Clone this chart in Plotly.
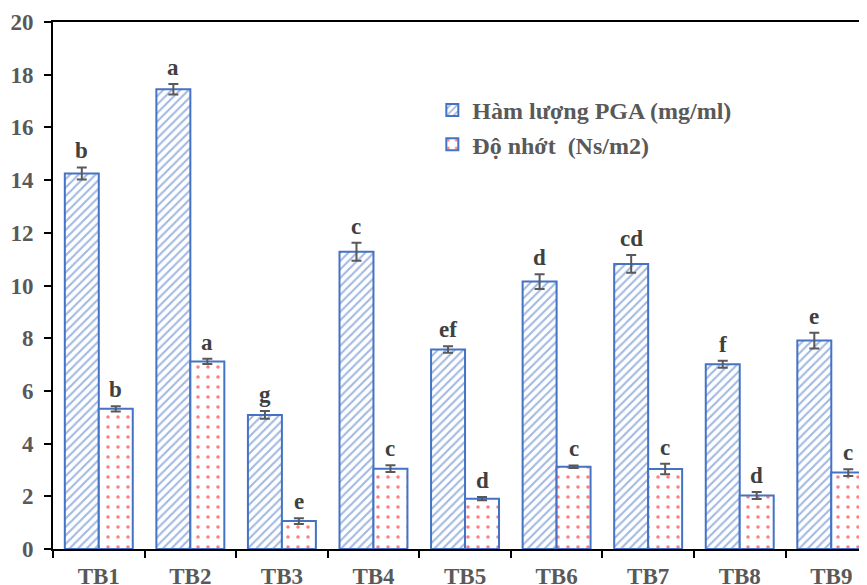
import plotly.graph_objects as go

categories = ["TB1", "TB2", "TB3", "TB4", "TB5", "TB6", "TB7", "TB8", "TB9"]
pga = [14.25, 17.45, 5.09, 11.28, 7.57, 10.15, 10.82, 7.01, 7.91]
pga_err = [0.23, 0.20, 0.15, 0.34, 0.12, 0.28, 0.34, 0.13, 0.30]
pga_letters = ["b", "a", "g", "c", "ef", "d", "cd", "f", "e"]
visc = [5.32, 7.12, 1.06, 3.05, 1.91, 3.12, 3.04, 2.03, 2.90]
visc_err = [0.10, 0.10, 0.11, 0.13, 0.06, 0.05, 0.20, 0.13, 0.13]
visc_letters = ["b", "a", "e", "c", "d", "c", "c", "d", "c"]
y_ticks = [0, 2, 4, 6, 8, 10, 12, 14, 16, 18, 20]

FONT = "Liberation Serif"
BLUE = "#4472C4"
GRAY = "#595959"

fig = go.Figure()
fig.add_trace(go.Bar(
    x=categories, y=pga, name="Hàm lượng PGA (mg/ml)",
    marker=dict(color="white", line=dict(color=BLUE, width=2),
                pattern=dict(shape="/", fgcolor=BLUE, bgcolor="white", size=6, solidity=0.35)),
    error_y=dict(type="data", array=pga_err, color=GRAY, thickness=2, width=5),
))
fig.add_trace(go.Bar(
    x=categories, y=visc, name="Độ nhớt  (Ns/m2)",
    marker=dict(color="white", line=dict(color=BLUE, width=2),
                pattern=dict(shape=".", fgcolor="#FF0000", bgcolor="white", size=10, solidity=0.1)),
    error_y=dict(type="data", array=visc_err, color=GRAY, thickness=2, width=5),
))

for c, v, e, t in zip(categories, pga, pga_err, pga_letters):
    fig.add_annotation(x=c, y=v + e, text=t, showarrow=False, xshift=-17, yshift=2,
                       yanchor="bottom", font=dict(family=FONT, size=23, color="#404040", weight="bold"))
for c, v, e, t in zip(categories, visc, visc_err, visc_letters):
    fig.add_annotation(x=c, y=v + e, text=t, showarrow=False, xshift=17, yshift=2,
                       yanchor="bottom", font=dict(family=FONT, size=23, color="#404040", weight="bold"))

fig.update_layout(
    width=867, height=585,
    margin=dict(l=45, r=8, t=14, b=44),
    paper_bgcolor="white", plot_bgcolor="white",
    barmode="group", bargap=0.258, bargroupgap=0,
    font=dict(family=FONT, size=22, color=GRAY),
    showlegend=True,
    legend=dict(x=0.466, y=0.875, xanchor="left", yanchor="top",
                bgcolor="rgba(0,0,0,0)", itemwidth=30, tracegroupgap=0,
                font=dict(family=FONT, size=24, color=GRAY, weight="bold")),
)
fig.update_xaxes(
    range=[-0.5, 8.39], showline=True, linecolor="black", linewidth=2, mirror=True,
    ticks="outside", tickson="boundaries", ticklen=7, tickwidth=2, tickcolor="black",
    showgrid=False, ticklabelstandoff=5, automargin=False,
    tickfont=dict(family=FONT, size=23, color=GRAY, weight="bold"),
)
fig.update_yaxes(
    range=[0, 20], tickvals=y_ticks, showline=True, linecolor="black", linewidth=2,
    ticks="outside", ticklen=7, tickwidth=2, tickcolor="black",
    showgrid=False, zeroline=False, ticklabelstandoff=6, automargin=False,
    tickfont=dict(family=FONT, size=23, color=GRAY, weight="bold"),
)

fig.write_html("out.html")
